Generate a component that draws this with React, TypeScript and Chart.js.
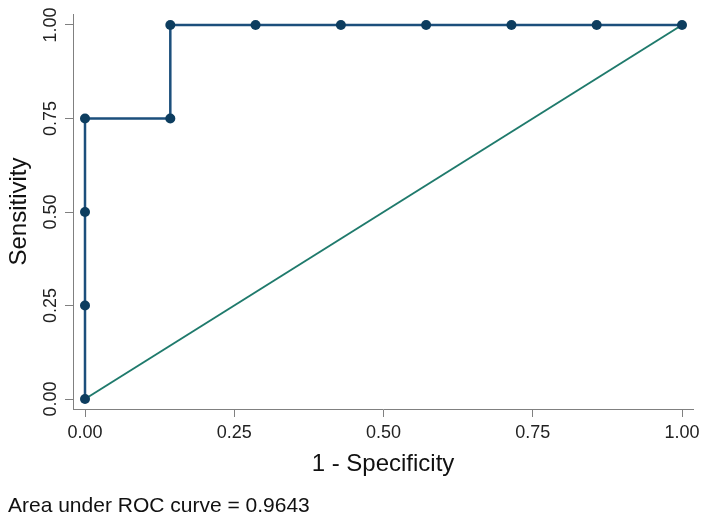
import React, { useEffect, useRef } from "react";
import { Chart, registerables } from "chart.js";

Chart.register(...registerables);

const falsePositiveRate = [0, 0, 0, 0, 0.1429, 0.1429, 0.2857, 0.4286, 0.5714, 0.7143, 0.8571, 1];
const sensitivity = [0, 0.25, 0.5, 0.75, 0.75, 1, 1, 1, 1, 1, 1, 1];
const referenceX = [0, 1];
const referenceY = [0, 1];
const tickValues = [0, 0.25, 0.5, 0.75, 1];
const xTitle = "1 - Specificity";
const yTitle = "Sensitivity";
const aucText = "Area under ROC curve = 0.9643";

const FONT = "'Liberation Sans', Arial, Helvetica, sans-serif";

export default function App() {
  const canvasRef = useRef<HTMLCanvasElement | null>(null);

  useEffect(() => {
    if (!canvasRef.current) return;
    const rocData = falsePositiveRate.map((x, i) => ({ x, y: sensitivity[i] }));
    const refData = referenceX.map((x, i) => ({ x, y: referenceY[i] }));
    const setTicks = (scale: any) => {
      scale.ticks = tickValues.map((v) => ({ value: v }));
    };
    const chart = new Chart(canvasRef.current, {
      type: "scatter",
      data: {
        datasets: [
          {
            label: "ROC",
            data: rocData,
            showLine: true,
            borderColor: "#1c4f7c",
            borderWidth: 2.5,
            backgroundColor: "#0d3d5f",
            pointBackgroundColor: "#0d3d5f",
            pointBorderColor: "#0d3d5f",
            pointRadius: 5,
            pointBorderWidth: 0,
            order: 0,
            clip: false as any,
          },
          {
            label: "Reference",
            data: refData,
            showLine: true,
            borderColor: "#1f7a6c",
            borderWidth: 2,
            pointRadius: 0,
            order: 1,
            clip: false as any,
          },
        ],
      },
      options: {
        responsive: false,
        animation: false,
        layout: { padding: { top: 14, right: 16, left: 0, bottom: 0 } },
        plugins: {
          legend: { display: false },
          tooltip: { enabled: false },
        },
        scales: {
          x: {
            type: "linear",
            min: -0.0201,
            max: 1.0184,
            afterBuildTicks: setTicks,
            afterFit: (scale: any) => {
              scale.height = 116;
            },
            grid: { display: true, drawOnChartArea: false, drawTicks: true, tickLength: 8, color: "#808080", lineWidth: 1 },
            border: { display: true, color: "#808080", width: 1 },
            ticks: {
              padding: 5,
              color: "#222222",
              font: { family: FONT, size: 18 },
              maxRotation: 0,
              minRotation: 0,
              callback: (v: any) => Number(v).toFixed(2),
            },
            title: {
              display: true,
              text: xTitle,
              color: "#111111",
              font: { family: FONT, size: 24 },
              padding: { top: 0, bottom: 46 },
            },
          },
          y: {
            type: "linear",
            min: -0.0267,
            max: 1.0294,
            afterBuildTicks: setTicks,
            afterFit: (scale: any) => {
              scale.width = 73;
            },
            grid: { display: true, drawOnChartArea: false, drawTicks: true, tickLength: 8, color: "#808080", lineWidth: 1 },
            border: { display: true, color: "#808080", width: 1 },
            ticks: {
              padding: -4,
              crossAlign: "center",
              minRotation: 90,
              maxRotation: 90,
              color: "#222222",
              font: { family: FONT, size: 18 },
              callback: (v: any) => Number(v).toFixed(2),
            },
            title: {
              display: true,
              text: yTitle,
              color: "#111111",
              font: { family: FONT, size: 24 },
              padding: { top: 5, bottom: 0 },
            },
          },
        },
      },
    });
    return () => chart.destroy();
  }, []);

  return (
    <div style={{ position: "absolute", left: 0, top: 0, width: 709, height: 525, background: "#ffffff" }}>
      <canvas ref={canvasRef} width={709} height={525} style={{ display: "block" }} />
      <div
        style={{
          position: "absolute",
          left: 8,
          top: 494,
          fontFamily: FONT,
          fontSize: 21,
          lineHeight: "21px",
          color: "#111111",
          whiteSpace: "nowrap",
        }}
      >
        {aucText}
      </div>
    </div>
  );
}
